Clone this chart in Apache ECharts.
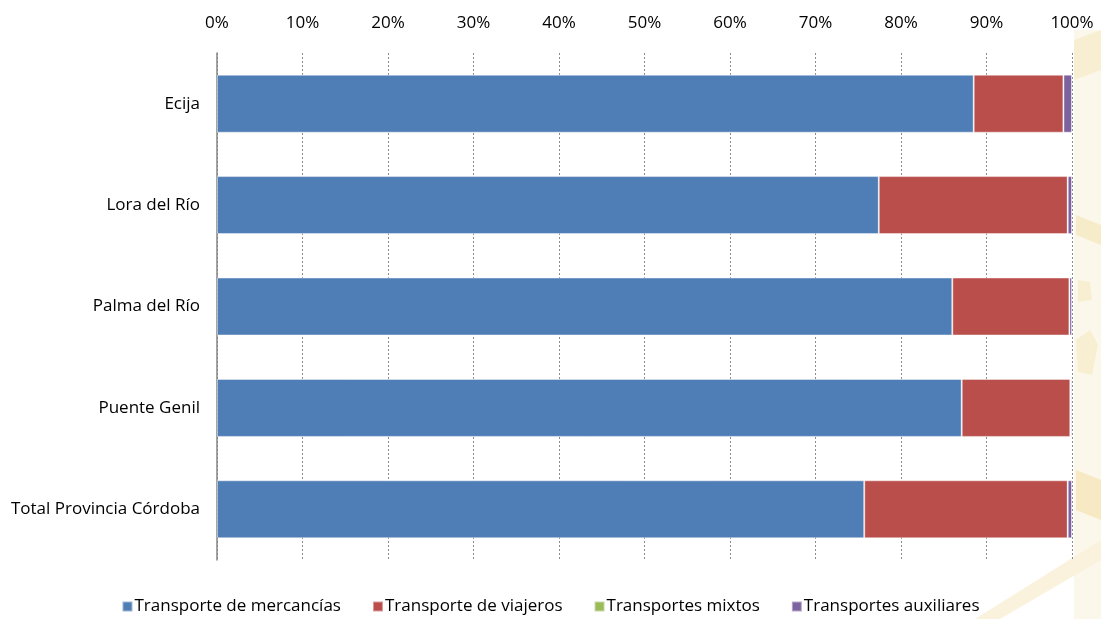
<!DOCTYPE html>
<html>
<head>
    <meta charset="UTF-8">
    <title>Transporte por municipio</title>
    <script src="https://cdn.jsdelivr.net/npm/echarts@6.0.0/dist/echarts.min.js"></script>
    <style>
        html, body { margin: 0; padding: 0; background: #fff; }
        #chart { width: 1101px; height: 619px; }
    </style>
</head>
<body>
    <div id="chart"></div>
    <script>
        // datos (% sobre el total de cada zona)
        var zonas = ['Ecija', 'Lora del Río', 'Palma del Río', 'Puente Genil', 'Total Provincia Córdoba'];
        var mercancias = [88.5, 77.4, 86.0, 87.1, 75.7];
        var viajeros = [10.5, 22.1, 13.7, 12.7, 23.8];
        var mixtos = [0.0, 0.0, 0.0, 0.05, 0.0];
        var auxiliares = [1.0, 0.5, 0.3, 0.15, 0.5];
        var ticksX = [0, 10, 20, 30, 40, 50, 60, 70, 80, 90, 100];

        var fuente = '"Open Sans", sans-serif';
        var chart = echarts.init(document.getElementById('chart'));

        function serie(nombre, datos, color) {
            return {
                name: nombre,
                type: 'bar',
                stack: 'total',
                barWidth: 58,
                data: datos,
                itemStyle: { color: color, borderColor: 'rgba(255,255,255,0.45)', borderWidth: 1 },
                emphasis: { disabled: true }
            };
        }

        chart.setOption({
            animation: false,
            textStyle: { fontFamily: fuente },
            graphic: [
                // marca de agua amarilla a la derecha
                { type: 'rect', z: -10, shape: { x: 1074, y: 30, width: 27, height: 589 }, style: { fill: '#fbf7ea' } },
                { type: 'polygon', z: -9, shape: { points: [[1074, 40], [1101, 30], [1101, 70], [1074, 80]] }, style: { fill: '#f8efd3' } },
                { type: 'polygon', z: -9, shape: { points: [[1076, 215], [1101, 225], [1101, 245], [1076, 235]] }, style: { fill: '#f7ecca' } },
                { type: 'polygon', z: -9, shape: { points: [[1078, 280], [1090, 282], [1092, 300], [1078, 302]] }, style: { fill: '#f8efd3' } },
                { type: 'polygon', z: -9, shape: { points: [[1076, 340], [1090, 330], [1098, 345], [1092, 375], [1078, 372]] }, style: { fill: '#f8efd3' } },
                { type: 'polygon', z: -9, shape: { points: [[1076, 470], [1101, 480], [1101, 520], [1076, 510]] }, style: { fill: '#f6e9c4' } },
                { type: 'polygon', z: -9, shape: { points: [[975, 619], [1101, 540], [1101, 560], [1000, 619]] }, style: { fill: '#faf2dc' } }
            ],
            legend: {
                bottom: -1,
                left: 'center',
                itemWidth: 10,
                itemHeight: 10,
                itemGap: 31,
                icon: 'rect',
                textStyle: { fontSize: 17, color: '#000', fontFamily: fuente, padding: [0, 0, 0, -3] },
                data: ['Transporte de mercancías', 'Transporte de viajeros', 'Transportes mixtos', 'Transportes auxiliares']
            },
            grid: { left: 217, right: 29, top: 53, bottom: 59, containLabel: false },
            xAxis: {
                type: 'value',
                position: 'top',
                min: ticksX[0],
                max: ticksX[ticksX.length - 1],
                interval: 10,
                axisLine: { show: false },
                axisTick: { show: false },
                axisLabel: { formatter: '{value}%', fontSize: 17, color: '#000', margin: 21, fontFamily: fuente },
                splitLine: { show: true, lineStyle: { type: [2, 2], color: '#8c8c8c', width: 1 } }
            },
            yAxis: {
                type: 'category',
                inverse: true,
                data: zonas,
                axisLine: { show: true, lineStyle: { color: '#868686', width: 1.5 } },
                axisTick: { show: false },
                axisLabel: { fontSize: 17, color: '#000', margin: 17, fontFamily: fuente }
            },
            series: [
                serie('Transporte de mercancías', mercancias, '#4f7db5'),
                serie('Transporte de viajeros', viajeros, '#b94e4b'),
                serie('Transportes mixtos', mixtos, '#9bbb59'),
                serie('Transportes auxiliares', auxiliares, '#7d62a0')
            ]
        });
    </script>
</body>
</html>
